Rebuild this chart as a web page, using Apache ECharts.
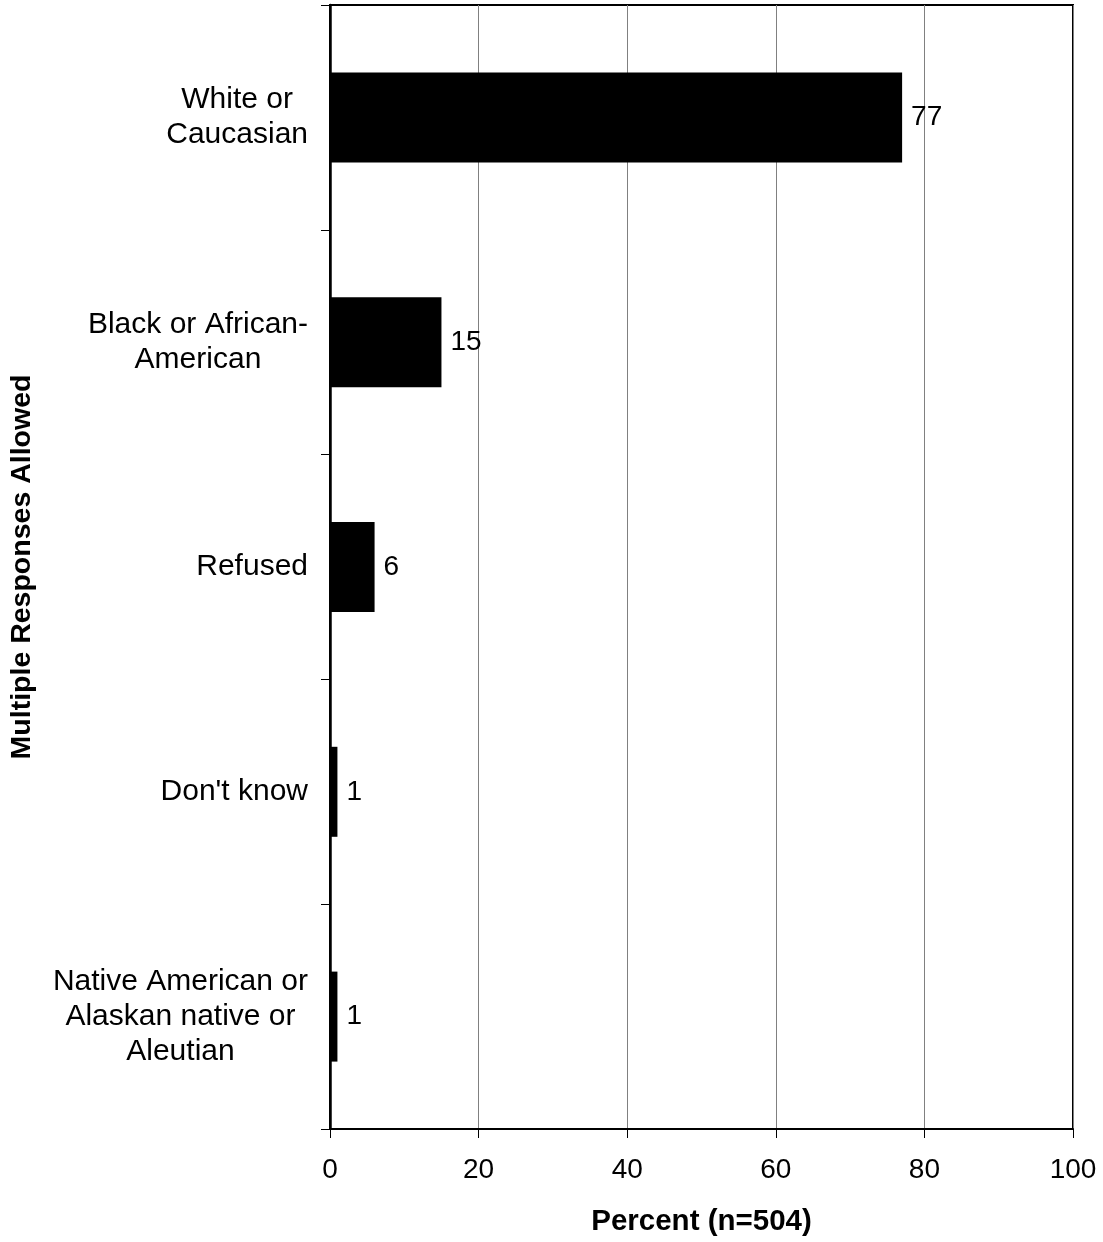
<!DOCTYPE html>
<html>
<head>
<meta charset="utf-8">
<script src="https://cdn.jsdelivr.net/npm/echarts@6/dist/echarts.min.js"></script>
<style>
  html, body { margin: 0; padding: 0; background: #fff; }
  #chart { width: 1103px; height: 1242px; }
</style>
</head>
<body>
<div id="chart"></div>
<script>
// Race / ethnicity of respondents (percent, multiple responses allowed)
const categories = [
  'White or\nCaucasian',
  'Black or African-\nAmerican',
  'Refused',
  "Don't know",
  'Native American or\nAlaskan native or\nAleutian'
];
const percents = [77, 15, 6, 1, 1];
const xTicks = [0, 20, 40, 60, 80, 100];

const FONT = '"Liberation Sans", Arial, Helvetica, sans-serif';

const chart = echarts.init(document.getElementById('chart'), null, { renderer: 'canvas' });

chart.setOption({
  animation: false,
  backgroundColor: '#ffffff',
  grid: {
    left: 329, right: 30, top: 5, bottom: 113,
    show: true, borderColor: '#000', borderWidth: 2, backgroundColor: 'transparent'
  },
  xAxis: {
    type: 'value',
    min: xTicks[0],
    max: xTicks[xTicks.length - 1],
    interval: xTicks[1] - xTicks[0],
    name: 'Percent (n=504)',
    nameLocation: 'middle',
    nameGap: 78,
    nameTextStyle: { fontFamily: FONT, fontSize: 29.5, fontWeight: 'bold', color: '#000' },
    axisLine: { show: true, lineStyle: { color: '#000', width: 2 } },
    axisTick: { show: true, inside: false, length: 9, lineStyle: { color: '#000', width: 1 } },
    axisLabel: { margin: 27, fontFamily: FONT, fontSize: 28, color: '#000' },
    splitLine: { show: true, lineStyle: { color: '#808080', width: 1 } }
  },
  yAxis: {
    type: 'category',
    data: categories,
    inverse: true,
    boundaryGap: true,
    name: 'Multiple Responses Allowed',
    nameLocation: 'middle',
    nameRotate: 90,
    nameGap: 293,
    nameTextStyle: { fontFamily: FONT, fontSize: 28.5, fontWeight: 'bold', color: '#000' },
    axisLine: { show: true, lineStyle: { color: '#000', width: 2.5 } },
    axisTick: { show: true, inside: false, length: 9, alignWithLabel: false, lineStyle: { color: '#000', width: 1 } },
    axisLabel: {
      margin: 22,
      fontFamily: FONT,
      fontSize: 30,
      lineHeight: 35,
      color: '#000',
      formatter: function (v) {
        return v.split('\n').map(function (l) { return '{c|' + l + '}'; }).join('\n');
      },
      rich: {
        c: { align: 'center', fontFamily: FONT, fontSize: 30, lineHeight: 35, color: '#000' }
      }
    },
    splitLine: { show: false }
  },
  series: [{
    type: 'bar',
    data: percents,
    barWidth: 90,
    itemStyle: { color: '#000' },
    label: {
      show: true,
      position: 'right',
      distance: 9,
      fontFamily: FONT,
      fontSize: 28,
      color: '#000',
      formatter: function (p) { return String(p.value); }
    }
  }]
});
</script>
</body>
</html>
